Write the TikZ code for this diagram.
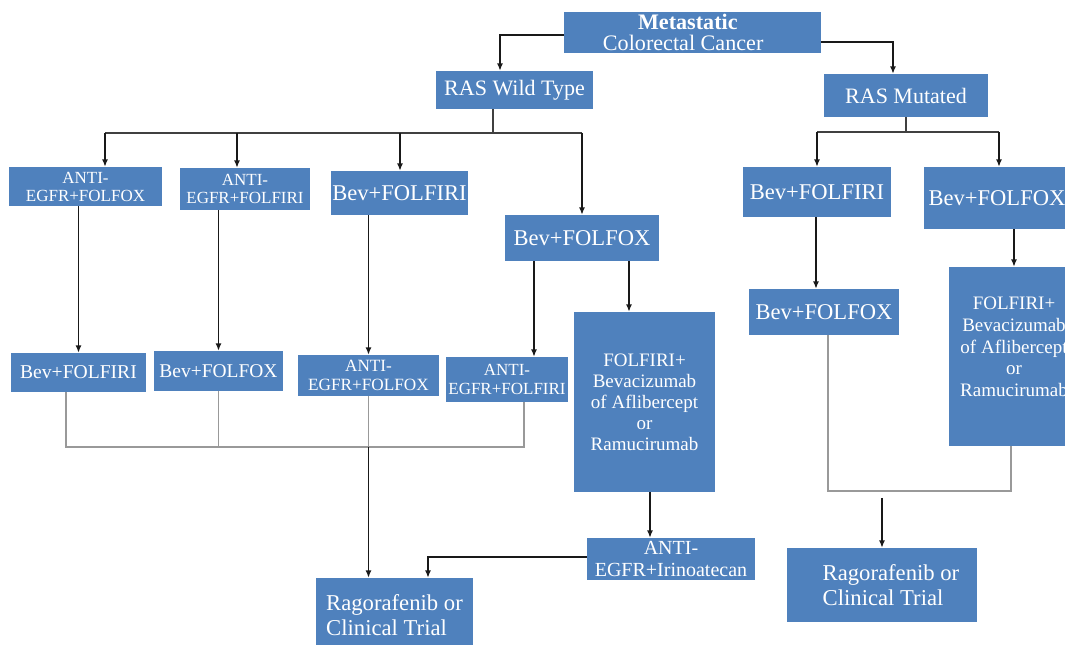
\documentclass[tikz,border=0pt]{standalone}
\usepackage{fontspec}
\setmainfont{Liberation Serif}
\usetikzlibrary{arrows.meta,calc}
\definecolor{boxblue}{RGB}{79,129,189}
\begin{document}
\begin{tikzpicture}[x=0.75pt,y=-0.75pt,
  bx/.style={rectangle, fill=boxblue, text=white, inner sep=0pt, align=center},
  wh/.style 2 args={minimum width=#1*0.75pt, minimum height=#2*0.75pt},
  fs/.style 2 args={font=\fontsize{#1}{#2}\selectfont},
  arr/.style={draw=black!90, line width=1pt, -{Latex[length=5.5pt,width=4.5pt]}},
  ln/.style={draw=black!75, line width=0.8pt},
  gl/.style={draw=black!40, line width=0.8pt}]
\useasboundingbox (0,0) rectangle (1065,645);
\clip (0,0) rectangle (1065,645);
\fill[white] (0,0) rectangle (1065,645);

% nodes
\node[bx, wh={257}{41}, fs={16.6pt}{16pt}] (meta) at (692.5,32.5) {\textbf{Metastatic}\hspace*{7pt}\\Colorectal Cancer\hspace*{14pt}};
\node[bx, wh={157}{38}, fs={16.5pt}{18pt}] (raswt) at (514.5,90) {RAS Wild Type};
\node[bx, wh={164}{43}, fs={16.5pt}{18pt}] (rasmut) at (906,95.5) {RAS Mutated};

\node[bx, wh={153}{39}, fs={12.75pt}{13.5pt}] (a1) at (85.5,186.5) {ANTI-\\EGFR+FOLFOX};
\node[bx, wh={130}{42}, fs={12.75pt}{13.5pt}] (a2) at (245,189) {ANTI-\\EGFR+FOLFIRI};
\node[bx, wh={137}{44}, fs={16.9pt}{18pt}] (a3) at (399.5,193) {Bev+FOLFIRI};
\node[bx, wh={154}{46}, fs={16.9pt}{18pt}] (a4) at (582,238) {Bev+FOLFOX};
\node[bx, wh={148}{50}, fs={16.9pt}{18pt}] (b1) at (817,192) {Bev+FOLFIRI};
\node[bx, wh={146}{62}, fs={16.9pt}{18pt}] (b2) at (997,198) {Bev+FOLFOX};

\node[bx, wh={135}{39}, fs={14.7pt}{16pt}] (c1) at (78.5,372.5) {Bev+FOLFIRI};
\node[bx, wh={129}{40}, fs={14.6pt}{16pt}] (c2) at (218.5,371) {Bev+FOLFOX};
\node[bx, wh={141}{41}, fs={12.9pt}{14pt}] (c3) at (368.5,375.5) {ANTI-\\EGFR+FOLFOX};
\node[bx, wh={122}{45}, fs={12.75pt}{14pt}] (c4) at (507,379.5) {ANTI-\\EGFR+FOLFIRI};
\node[bx, wh={141}{180}, fs={14.25pt}{15.75pt}] (fm) at (644.5,402) {FOLFIRI+\\Bevacizumab\\of Aflibercept\\or\\Ramucirumab};
\node[bx, wh={150}{46}, fs={16.9pt}{18pt}] (d1) at (824,312) {Bev+FOLFOX};
\node[bx, wh={130}{179}] (fr) at (1014,356.5) {};
\node[text=white, inner sep=0pt, align=center, fs={14.25pt}{16.3pt}] (frt) at ($(fr)+(0,-9.5)$) {FOLFIRI+\\Bevacizumab\\of Aflibercept\\or\\Ramucirumab};
\node[bx, wh={168}{42}, fs={15pt}{16.5pt}] (ir) at (671,559) {ANTI-\\EGFR+Irinoatecan};
\node[bx, wh={157}{74}, fs={17pt}{18.75pt}, align=left] (rg1) at (394.5,615) {Ragorafenib or\\Clinical Trial};
\node[bx, wh={190}{74}, fs={17pt}{18.75pt}, align=left] (rg2) at (882,585) {\hspace*{13.5pt}Ragorafenib or\\\hspace*{13.5pt}Clinical Trial};

% helper coordinates
\coordinate (wtbus) at (493,133);
\coordinate (mbus) at (906,132);
\coordinate (colL) at (368.5,447);
\coordinate (colR) at (882,491);
\coordinate (colRa) at (882,498);
\coordinate (a1in) at ($(a1.north)+(19.5,0)$);
\coordinate (a2in) at ($(a2.north)+(-8,0)$);
\coordinate (a3in) at ($(a3.north)+(0.5,0)$);
\coordinate (b2in) at ($(b2.north)+(2,0)$);
\coordinate (c4in) at ($(c4.north)+(27,0)$);
\coordinate (fmin) at ($(fm.north)+(-15.5,0)$);
\coordinate (d1in) at ($(d1.north)+(-8,0)$);
\coordinate (irin) at ($(ir.north)+(-21,0)$);
\coordinate (rgin) at ($(rg1.north)+(33.5,0)$);
\coordinate (c1out) at ($(c1.south)+(-12.5,0)$);
\coordinate (c4out) at ($(c4.south)+(17,0)$);
\coordinate (d1out) at ($(d1.south)+(4,0)$);
\coordinate (frout) at ($(fr.south)+(-3,0)$);

% top
\draw[arr] ($(meta.west)+(0,2.5)$) -| ($(raswt.north)+(-14.5,0)$);
\draw[arr] ($(meta.east)+(0,9.5)$) -| ($(rasmut.north)+(-13,0)$);

% RAS wild type bus
\draw[ln] ($(raswt.south)+(-21.5,0)$) -- (wtbus);
\draw[ln] (a1in |- wtbus) -- (a4.north |- wtbus);
\draw[arr] (a1in |- wtbus) -- (a1in);
\draw[arr] (a2in |- wtbus) -- (a2in);
\draw[arr] (a3in |- wtbus) -- (a3in);
\draw[arr] (a4.north |- wtbus) -- (a4.north);

% RAS mutated bus
\draw[ln] (rasmut.south) -- (mbus);
\draw[ln] (b1.north |- mbus) -- (b2in |- mbus);
\draw[arr] (b1.north |- mbus) -- (b1.north);
\draw[arr] (b2in |- mbus) -- (b2in);

% second line of therapy
\draw[arr] (a1.south -| c1.north) -- (c1.north);
\draw[arr] (a2.south -| c2.north) -- (c2.north);
\draw[arr] (a3.south -| c3.north) -- (c3.north);
\draw[arr] (a4.south -| c4in) -- (c4in);
\draw[arr] (a4.south -| fmin) -- (fmin);
\draw[arr] (b1.south -| d1in) -- (d1in);
\draw[arr] (b2.south -| fr.north) -- (fr.north);
\draw[arr] (fm.south -| irin) -- (irin);
\draw[arr] ($(ir.west)+(0,-2)$) -| (rgin);

% collectors
\draw[gl] (c1out) -- (c1out |- colL) -- (c4out |- colL) -- (c4out);
\draw[gl] (c2.south) -- (c2.south |- colL);
\draw[gl] (c3.south) -- (colL);
\draw[arr] (colL) -- (colL |- rg1.north);
\draw[gl] (d1out) -- (d1out |- colR) -- (frout |- colR) -- (frout);
\draw[arr] (colRa) -- (rg2.north);
\end{tikzpicture}
\end{document}
